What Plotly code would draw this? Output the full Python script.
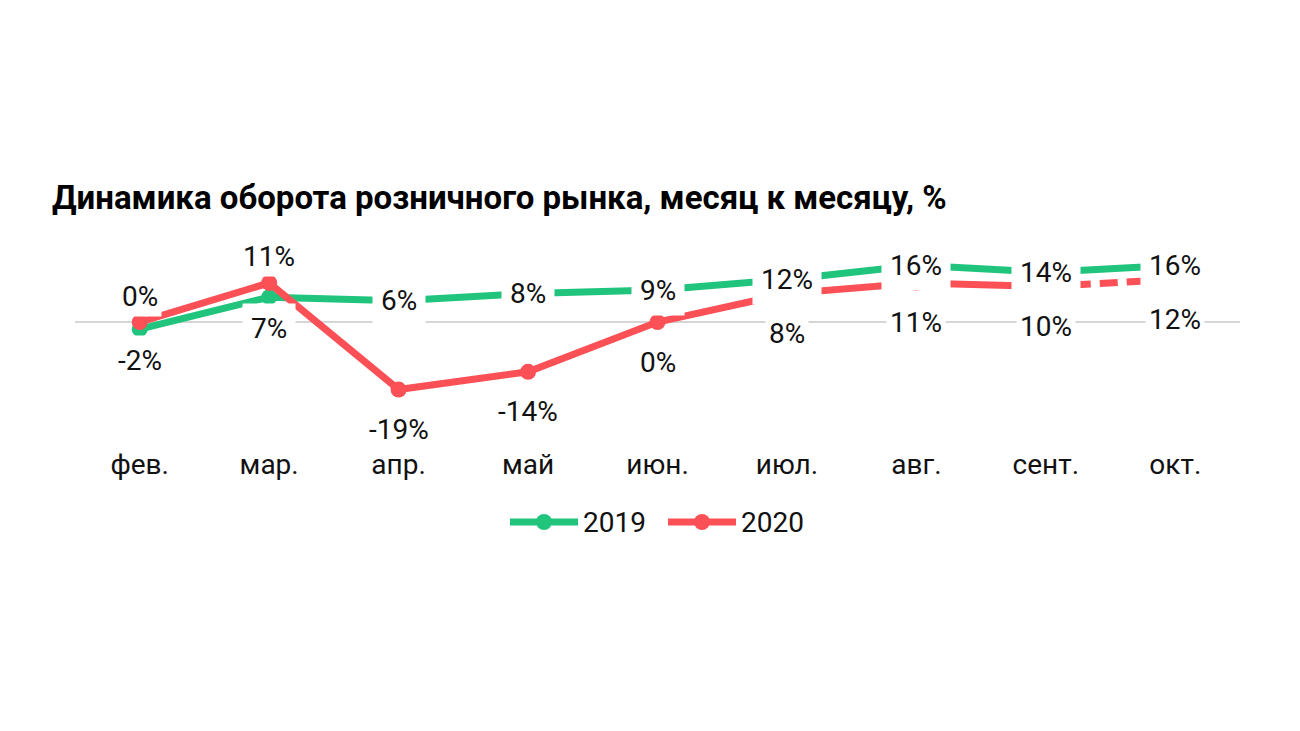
import plotly.graph_objects as go

months = ["фев.", "мар.", "апр.", "май", "июн.", "июл.", "авг.", "сент.", "окт."]
y2019 = [-2, 7, 6, 8, 9, 12, 16, 14, 16]
y2020 = [0, 11, -19, -14, 0, 8, 11, 10, 12]
names = ["2019", "2020"]

title = "Динамика оборота розничного рынка, месяц к месяцу, %"

GREEN = "#20c47c"
RED = "#fa5056"
FONT = "Roboto"
TXT = "#111111"

# page is drawn with an 8px body margin, so everything is placed 8px up/left
OFF = 8
W, H = 1300, 731
L, R, T, B = 75 - OFF, 60 + OFF, 230 - OFF, 286 + OFF
PW, PH = W - L - R, H - T - B

# where each data label sits relative to its point
pos2019 = ["below", "below"] + ["center"] * 7
pos2020 = ["above", "above"] + ["below"] * 7
shift2019 = {"below": -31, "center": 0}
shift2020 = {"above": 26, "below": -40}


def paper(x, y):
    # page pixel -> paper coordinate
    return (x - OFF - L) / PW, (T + PH - (y - OFF)) / PH


fig = go.Figure()

fig.add_trace(go.Scatter(
    x=months, y=y2019, name=names[0], mode="lines+markers",
    line=dict(color=GREEN, width=7), marker=dict(size=16, color=GREEN),
    showlegend=False
))
# last month of 2020 drawn dashed
fig.add_trace(go.Scatter(
    x=months[7:], y=y2020[7:], name=names[1], mode="lines",
    line=dict(color=RED, width=7, dash="18px,9px"), showlegend=False
))
fig.add_trace(go.Scatter(
    x=months[:8], y=y2020[:8], name=names[1], mode="lines+markers",
    line=dict(color=RED, width=7), marker=dict(size=16, color=RED),
    showlegend=False
))

annotations = []
for vals, pos, sh, pad in [(y2020, pos2020, shift2020, 3), (y2019, pos2019, shift2019, 8)]:
    for m, v, p in zip(months, vals, pos):
        annotations.append(dict(
            x=m, y=v, text="{}%".format(v), showarrow=False,
            yshift=sh[p], bgcolor="white", borderpad=pad,
            font=dict(family=FONT, size=28, color=TXT)
        ))

# legend drawn by hand so the line samples are long
shapes = []
legend_items = [(names[0], GREEN, 510), (names[1], RED, 668)]
for name, col, x0 in legend_items:
    xa, ya = paper(x0, 522)
    xb, _ = paper(x0 + 68, 522)
    xc, _ = paper(x0 + 34, 522)
    shapes.append(dict(type="line", xref="paper", yref="paper", x0=xa, x1=xb, y0=ya, y1=ya,
                       line=dict(color=col, width=7)))
    shapes.append(dict(type="circle", xref="paper", yref="paper", xsizemode="pixel", ysizemode="pixel",
                       xanchor=xc, yanchor=ya, x0=-8, x1=8, y0=-8, y1=8,
                       fillcolor=col, line=dict(width=0)))
    xt, _ = paper(x0 + 71, 522)
    annotations.append(dict(x=xt, y=ya, xref="paper", yref="paper", text=name, showarrow=False,
                            xanchor="left", yanchor="middle",
                            font=dict(family=FONT, size=28, color=TXT)))

fig.update_layout(
    width=W, height=H,
    margin=dict(l=L, r=R, t=T, b=B),
    paper_bgcolor="white", plot_bgcolor="white",
    showlegend=False,
    title=dict(text="<b>" + title + "</b>", x=(52 - OFF) / W, xref="container", xanchor="left",
               y=1 - (197 - OFF) / H, yanchor="middle",
               font=dict(family=FONT, size=33, color="black")),
    annotations=annotations,
    shapes=shapes,
)
fig.update_xaxes(range=[-0.5, 8.5], showgrid=False, showline=False, ticks="",
                 tickfont=dict(family=FONT, size=28, color=TXT))
fig.update_yaxes(range=[-34.6, 25.9], showgrid=False, showticklabels=False,
                 zeroline=True, zerolinecolor="#d6d6d6", zerolinewidth=2)

fig.write_html("out.html")
